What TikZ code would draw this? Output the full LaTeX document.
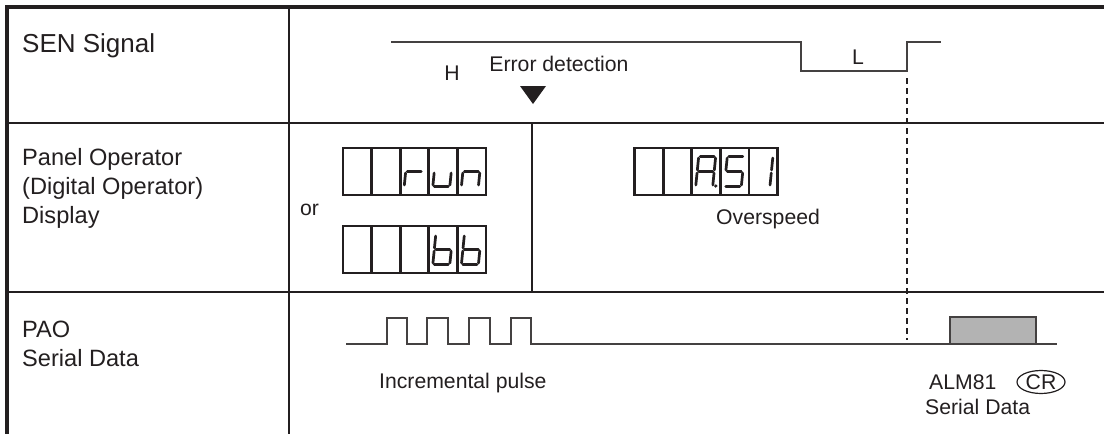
\documentclass[tikz,border=0pt]{standalone}
\usepackage{fontspec}
\setmainfont{Liberation Sans}
\usetikzlibrary{shapes.geometric}
\definecolor{ink}{HTML}{231F20}
\definecolor{boxgray}{HTML}{B3B3B3}
% seven-segment strokes in a local frame: origin bottom-left, width 17, height 30 (y grows downward)
\newcommand\segA{\draw[seg] (1.5,-30) -- (15.5,-30);}
\newcommand\segB{\draw[seg] (17,-28.5) -- (17,-16.5);}
\newcommand\segC{\draw[seg] (17,-13.5) -- (17,-1.5);}
\newcommand\segD{\draw[seg] (1.5,0) -- (15.5,0);}
\newcommand\segE{\draw[seg] (0,-1.5) -- (0,-13.5);}
\newcommand\segF{\draw[seg] (0,-16.5) -- (0,-28.5);}
\newcommand\segG{\draw[seg] (1.5,-15) -- (15.5,-15);}
\newcommand\segDot{\fill[ink] (20,-0.5) circle[radius=1.8];}
\newcommand\ssdigit[3]{\begin{scope}[shift={(#1,#2)},xslant=0.1]#3\end{scope}}
\begin{document}
\begin{tikzpicture}[x=1pt,y=-1pt,
  frame/.style={draw=ink,line width=2pt},
  thickframe/.style={draw=ink,line width=3.2pt},
  disp/.style={draw=ink,line width=2.8pt},
  seg/.style={draw=ink,line width=2.7pt,line cap=round},
  sig/.style={draw=ink!85,line width=1.6pt},
  big/.style={font=\fontsize{23.6}{28}\selectfont,text=ink,inner sep=0pt,anchor=base west},
  small/.style={font=\fontsize{21.2}{25}\selectfont,text=ink,inner sep=0pt},
]
\useasboundingbox (0,0) rectangle (1104,434);
\fill[white] (0,0) rectangle (1104,434);

% table frame
\draw[frame] (7,123) -- (1104,123);
\draw[frame] (7,292) -- (1104,292);
\draw[frame] (289,7) -- (289,434);
\draw[frame] (532,123) -- (532,292);
\draw[thickframe] (7,434) -- (7,7) -- (1104,7);

% row labels
\node[big,font=\fontsize{26}{30}\selectfont] (sen) at (22,52) {SEN Signal};
\node[big] (pan1) at (22,165) {Panel Operator};
\node[big] (pan2) at (22,194) {(Digital Operator)};
\node[big] (pan3) at (22,223) {Display};
\node[big] (pao1) at (22,337) {PAO};
\node[big] (pao2) at (22,366) {Serial Data};

% SEN signal
\draw[sig] (391,42) -- (801,42) -- (801,71) -- (907,71) -- (907,42) -- (941,42);
\node[small,anchor=base] (h) at (452,80) {H};
\node[small,anchor=base] (err) at (559,71) {Error detection};
\node[small,anchor=base] (l) at (858,64) {L};
\fill[ink] (520,86) -- (546,86) -- (533,104) -- cycle;
\draw[ink,line width=1.3pt,dash pattern=on 6pt off 4pt] (907,78) -- (907,340);

% displays
\foreach \t in {148,226}{
  \draw[disp] (343,\t) rectangle (486,\t+47);
  \foreach \xx in {371.6,400.2,428.8,457.4} \draw[disp] (\xx,\t) -- (\xx,\t+47);
}
\draw[disp] (634.5,148) rectangle (777.5,195);
\foreach \xx in {663.1,691.7,720.3,748.9} \draw[disp] (\xx,148) -- (\xx,195);

% run
\ssdigit{404.2}{186.5}{\segE\segG}
\ssdigit{432.8}{186.5}{\segC\segD\segE}
\ssdigit{461.4}{186.5}{\segC\segE\segG}
% bb
\ssdigit{432.8}{264.5}{\segC\segD\segE\segF\segG}
\ssdigit{461.4}{264.5}{\segC\segD\segE\segF\segG}
% A.51
\ssdigit{695.7}{186.5}{\segA\segB\segC\segE\segF\segG\segDot}
\ssdigit{724.3}{186.5}{\segA\segF\segG\segC\segD}
\ssdigit{752.9}{186.5}{\segB\segC}

\node[small,anchor=base west] (or) at (300,215) {or};
\node[small,anchor=base west] (ovs) at (716,224) {Overspeed};

% PAO serial data
\draw[sig] (346,344) -- (387,344) -- (387,318) -- (407,318) -- (407,344)
  -- (427,344) -- (427,318) -- (448,318) -- (448,344)
  -- (469,344) -- (469,318) -- (490,318) -- (490,344)
  -- (511,344) -- (511,318) -- (531,318) -- (531,344) -- (1057,344);
\draw[sig,fill=boxgray] (950,317) rectangle (1036,344);
\node[small,anchor=base west] (inc) at (379,388) {Incremental pulse};
\node[small,anchor=base west] (alm) at (929,389) {ALM81};
\node[small,ellipse,draw=ink,line width=1.2pt,minimum width=48,minimum height=23,inner sep=0pt] (cr) at (1041,382) {CR};
\node[small,anchor=base west] (ser) at (925,414) {Serial Data};
\end{tikzpicture}
\end{document}
